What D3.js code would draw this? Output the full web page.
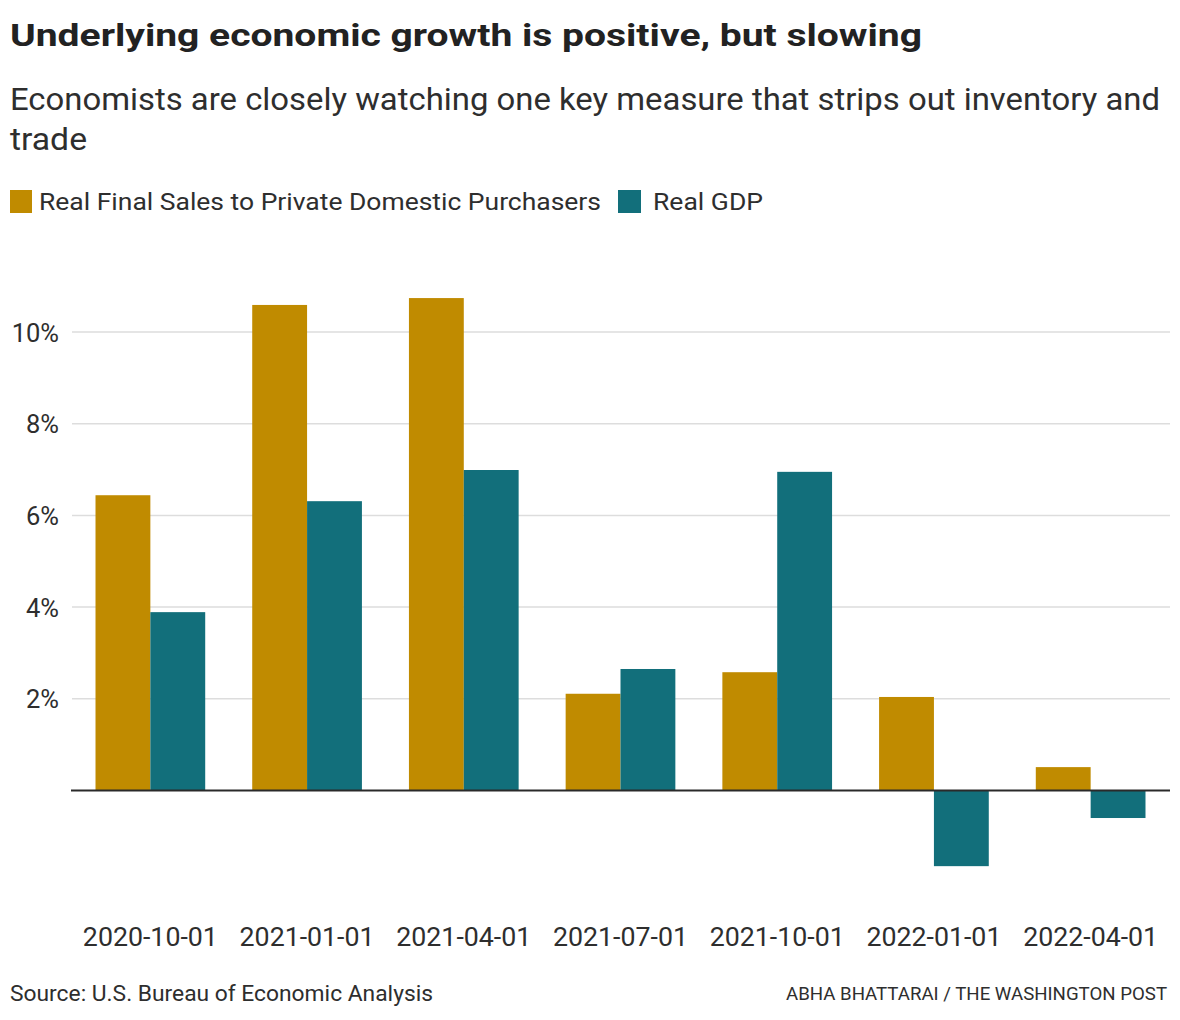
<!DOCTYPE html>
<html>
<head>
<meta charset="utf-8">
<script src="https://cdn.jsdelivr.net/npm/d3@7"></script>
<style>
  html, body { margin: 0; padding: 0; background: #fff; }
  svg { display: block; }
  text { font-family: Roboto, "Noto Sans", sans-serif; fill: #2e2e2e; }
</style>
</head>
<body>
<svg id="chart" width="1180" height="1020"></svg>
<script>
const categories = ["2020-10-01", "2021-01-01", "2021-04-01", "2021-07-01", "2021-10-01", "2022-01-01", "2022-04-01"];
const seriesNames = ["Real Final Sales to Private Domestic Purchasers", "Real GDP"];
const finalSales = [6.44, 10.59, 10.74, 2.11, 2.58, 2.04, 0.51];
const realGDP = [3.89, 6.31, 6.99, 2.65, 6.95, -1.65, -0.60];
const yTicks = [2, 4, 6, 8, 10];
const colors = ["#c08b00", "#126f7b"];

const svg = d3.select("#chart");

function txt(x, yy, str, size, weight, len) {
  const t = svg.append("text").attr("x", x).attr("y", yy)
    .style("font-size", size + "px").style("font-weight", weight).text(str);
  if (len) t.attr("textLength", len).attr("lengthAdjust", "spacingAndGlyphs");
  return t;
}

// Title, subtitle
txt(10, 46, "Underlying economic growth is positive, but slowing", 32, 700, 912).style("fill", "#222");
txt(10, 110, "Economists are closely watching one key measure that strips out inventory and", 31.5, 400, 1150);
txt(10, 150, "trade", 31.5, 400, 77);

// Legend
const leg1 = svg.append("g").attr("transform", "translate(10,190)");
leg1.append("rect").attr("width", 22).attr("height", 23).attr("fill", colors[0]);
leg1.append("text").attr("x", 29).attr("y", 19.5).style("font-size", "23.5px").style("font-weight", 400)
  .attr("textLength", 562).attr("lengthAdjust", "spacingAndGlyphs").text(seriesNames[0]);
const leg2 = svg.append("g").attr("transform", "translate(618,190)");
leg2.append("rect").attr("width", 23).attr("height", 23).attr("fill", colors[1]);
leg2.append("text").attr("x", 35).attr("y", 19.5).style("font-size", "23.5px").style("font-weight", 400)
  .attr("textLength", 110).attr("lengthAdjust", "spacingAndGlyphs").text(seriesNames[1]);

// Scales
const yPer = 45.85;
const y0 = 790.5;
const y = d3.scaleLinear().domain([-2, 11]).range([y0 + 2 * yPer, y0 - 11 * yPer]);
const x0 = d3.scaleBand().domain(categories).range([72, 1169]).paddingInner(0.3).paddingOuter(0.15);
const x1 = d3.scaleBand().domain([0, 1]).range([0, x0.bandwidth()]);

// Gridlines
svg.append("g").selectAll("line").data(yTicks).join("line")
  .attr("x1", 72).attr("x2", 1170)
  .attr("y1", d => y(d)).attr("y2", d => y(d))
  .attr("stroke", "#dddddd").attr("stroke-width", 1.5);

// Y axis labels
const yAxis = d3.axisLeft(y).tickValues(yTicks).tickSize(0).tickPadding(0).tickFormat(d => d + "%");
const ya = svg.append("g").attr("transform", "translate(59,0)").call(yAxis);
ya.select(".domain").remove();
ya.selectAll("text").style("font-size", "25.5px").style("font-weight", 400)
  .style("font-family", "Roboto, 'Noto Sans', sans-serif").attr("fill", "#2e2e2e").attr("dy", "0.36em");

// Bars
const groups = svg.append("g").selectAll("g").data(categories).join("g")
  .attr("transform", d => `translate(${x0(d)},0)`);
groups.selectAll("rect").data((d, i) => [finalSales[i], realGDP[i]]).join("rect")
  .attr("x", (d, j) => x1(j))
  .attr("width", x1.bandwidth())
  .attr("y", d => y(Math.max(0, d)))
  .attr("height", d => Math.abs(y(d) - y(0)))
  .attr("fill", (d, j) => colors[j]);

// Zero line
svg.append("line").attr("x1", 71).attr("x2", 1170).attr("y1", y(0)).attr("y2", y(0))
  .attr("stroke", "#2a2a2a").attr("stroke-width", 2);

// X axis labels
const xAxis = d3.axisBottom(x0).tickSize(0).tickPadding(0);
const xa = svg.append("g").attr("transform", "translate(0,946)").call(xAxis);
xa.select(".domain").remove();
xa.selectAll("text").attr("dy", 0).style("font-size", "25.5px").style("font-weight", 400)
  .style("font-family", "Roboto, 'Noto Sans', sans-serif").attr("fill", "#2e2e2e")
  .attr("textLength", 135).attr("lengthAdjust", "spacingAndGlyphs");

// Footer
txt(10, 1001, "Source: U.S. Bureau of Economic Analysis", 22, 400, 423);
txt(786, 1000, "ABHA BHATTARAI / THE WASHINGTON POST", 18.5, 400, 381);
</script>
</body>
</html>
